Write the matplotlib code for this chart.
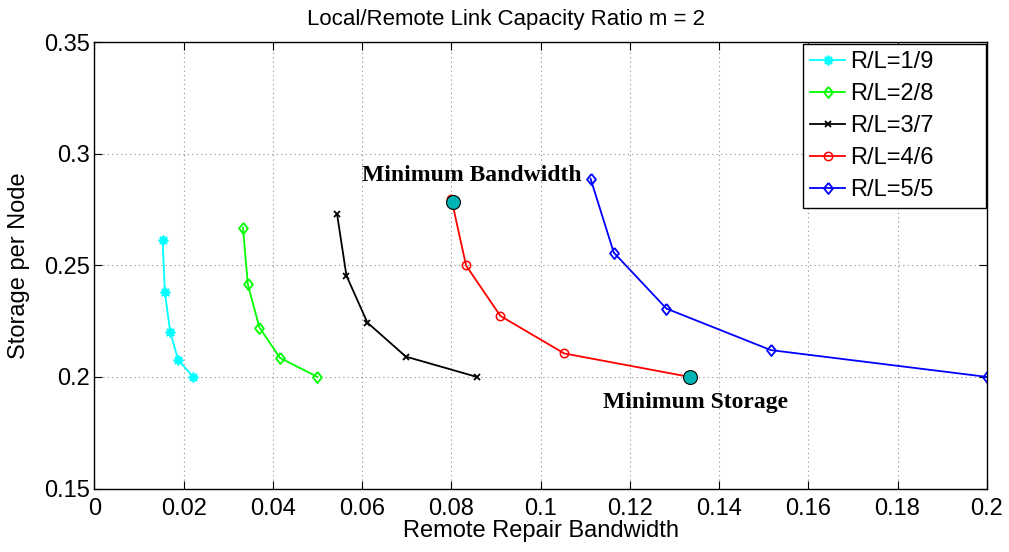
import numpy as np
import matplotlib
matplotlib.use("Agg")
import matplotlib.pyplot as plt

plt.rcParams['font.family'] = ['Liberation Sans', 'DejaVu Sans']

# remote repair bandwidth (x) / storage per node (y), one curve per R/L split
labels = ['R/L=1/9', 'R/L=2/8', 'R/L=3/7', 'R/L=4/6', 'R/L=5/5']

bw_19 = [0.0153, 0.0158, 0.0170, 0.0188, 0.0222]
st_19 = [0.2615, 0.2379, 0.2201, 0.2075, 0.2000]

bw_28 = [0.0333, 0.0344, 0.0370, 0.0416, 0.0500]
st_28 = [0.2669, 0.2414, 0.2221, 0.2085, 0.2000]

bw_37 = [0.0544, 0.0565, 0.0612, 0.0698, 0.0857]
st_37 = [0.2728, 0.2453, 0.2243, 0.2091, 0.2000]

bw_46 = [0.0800, 0.0833, 0.0910, 0.1053, 0.1334]
st_46 = [0.2799, 0.2499, 0.2273, 0.2105, 0.2000]

bw_55 = [0.1112, 0.1164, 0.1282, 0.1516, 0.2000]
st_55 = [0.2888, 0.2557, 0.2306, 0.2120, 0.2000]

# highlighted extreme points
min_bw_pt = (0.0803, 0.2785)
min_st_pt = (0.1334, 0.2000)

xticks = np.arange(0, 0.2001, 0.02)
xticklabels = ['0', '0.02', '0.04', '0.06', '0.08', '0.1', '0.12', '0.14', '0.16', '0.18', '0.2']
yticks = [0.15, 0.2, 0.25, 0.3, 0.35]
yticklabels = ['0.15', '0.2', '0.25', '0.3', '0.35']

fig = plt.figure(figsize=(10.09, 5.52), dpi=100)
ax = fig.add_axes([0.0935, 0.115, 0.8845, 0.8089])

diamond = [(0, 1), (0.8, 0), (0, -1), (-0.8, 0), (0, 1)]
lw = 1.3
ax.plot(bw_19, st_19, color='#00ffff', lw=lw, marker=(8, 2, 0), ms=7, mew=1.3, label=labels[0])
ax.plot(bw_28, st_28, color='#00ff00', lw=lw, marker=diamond, ms=8, mfc='none', mew=1.3, label=labels[1])
ax.plot(bw_37, st_37, color='black', lw=lw, marker='x', ms=5, mew=1.3, label=labels[2])
ax.plot(bw_46, st_46, color='#ff0000', lw=lw, marker='o', ms=6, mfc='none', mew=1.1, label=labels[3])
ax.plot(bw_55, st_55, color='#0000ff', lw=lw, marker=diamond, ms=8, mfc='none', mew=1.3, label=labels[4])

for pt in (min_bw_pt, min_st_pt):
    ax.plot(pt[0], pt[1], marker='o', ms=10, mfc='#00b4b4', mec='black', mew=0.8,
            linestyle='none', zorder=5)

ax.text(0.0845, 0.2903, 'Minimum Bandwidth', family='Liberation Serif', fontweight='bold',
        fontsize=17, ha='center', va='center')
ax.text(0.1348, 0.1887, 'Minimum Storage', family='Liberation Serif', fontweight='bold',
        fontsize=17, ha='center', va='center')

ax.set_xlim(0, 0.2)
ax.set_ylim(0.15, 0.35)
ax.set_xticks(xticks)
ax.set_xticklabels(xticklabels)
ax.set_yticks(yticks)
ax.set_yticklabels(yticklabels)
ax.tick_params(direction='in', length=6, width=0.8, top=True, right=True,
               labelsize=17)
ax.tick_params(axis='x', pad=7)
ax.tick_params(axis='y', pad=3)
ax.grid(True, color='0.55', linestyle=(0, (1, 3)), linewidth=0.8)
for s in ax.spines.values():
    s.set_linewidth(1.0)

ax.set_xlabel('Remote Repair Bandwidth', fontsize=17, labelpad=0)
ax.set_ylabel('Storage per Node', fontsize=17, labelpad=10)
ax.set_title('Local/Remote Link Capacity Ratio m = 2', fontsize=16, pad=12, x=0.461)

leg = ax.legend(loc='upper left', bbox_to_anchor=(0.794, 0.6058, 0.205, 0.3897),
                mode='expand', borderaxespad=0, fontsize=17, fancybox=False,
                edgecolor='black', framealpha=1, handlelength=1.5,
                handletextpad=0.2, labelspacing=0.42, borderpad=0.3)
leg.get_frame().set_linewidth(1.0)

fig.savefig('out.png', dpi=100)
